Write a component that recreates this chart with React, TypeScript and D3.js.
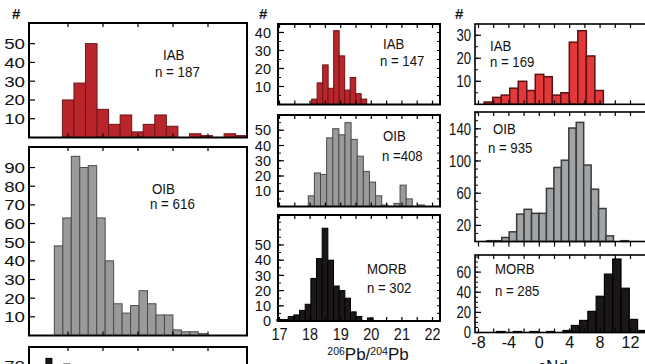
import React from 'react';
import * as d3 from 'd3';

const FONT = '"Liberation Sans", Arial, Helvetica, sans-serif';

// ---------- left column: 87Sr/86Sr (axis labels are below the picture) ----------
const srTicks = [0.703, 0.704, 0.705, 0.706, 0.707];
const srIabStart = 0.70284;
const srIabWidth = 0.00033;
const srIabCounts = [20, 29, 50, 15, 7, 12, 3, 7, 12, 6, 0, 2, 1, 0, 2, 1];
const srOibStart = 0.70261;
const srOibWidth = 0.000242;
const srOibCounts = [48, 63, 96, 90, 91, 63, 40, 17, 12, 16, 24, 17, 11, 11, 3, 2, 2, 1];
const srMorbStart = 0.70237;
const srMorbWidth = 0.00017;
// only the tops of the two tallest bars reach into the picture
const srMorbCounts = [74, 0, 0, 71];
const srIabYTicks = [10, 20, 30, 40, 50];
const srOibYTicks = [10, 20, 30, 40, 50, 60, 70, 80, 90];
const srMorbYTicks = [70];

// ---------- middle column: 206Pb/204Pb ----------
const pbTicks = [17, 18, 19, 20, 21, 22];
const pbMinorTicks = [17.5, 18.5, 19.5, 20.5, 21.5];
const pbIabStart = 18.05;
const pbIabWidth = 0.18;
const pbIabCounts = [3, 12, 22, 9, 41, 27, 8, 15, 6, 3];
const pbOibStart = 17.94;
const pbOibWidth = 0.2;
const pbOibCounts = [7, 22, 21, 45, 51, 47, 55, 44, 33, 23, 16, 7, 1, 0, 2, 14, 5, 0, 1];
const pbMorbStart = 16.915;
const pbMorbWidth = 0.185;
const pbMorbCounts = [1, 1, 3, 4, 7, 11, 28, 41, 61, 40, 23, 20, 15, 6, 3, 0, 2];
const pbIabYTicks = [10, 20, 30, 40];
const pbOibYTicks = [10, 20, 30, 40, 50];
const pbMorbYTicks = [0, 10, 20, 30, 40, 50];

// ---------- right column: εNd ----------
const ndTicks = [-8, -4, 0, 4, 8, 12];
const ndMinorTicks = [-6, -2, 2, 6, 10];
const ndIabStart = -7.25;
const ndIabWidth = 1.12;
const ndIabCounts = [1, 3, 4, 7, 10, 6, 13, 12, 4, 5, 27, 32, 21, 6];
const ndOibStart = -6.9;
const ndOibWidth = 0.98;
const ndOibCounts = [1, 1, 5, 12, 34, 40, 35, 35, 66, 92, 101, 141, 148, 95, 65, 41, 7, 0, 1];
const ndMorbStart = -5.6;
const ndMorbWidth = 1.09;
const ndMorbCounts = [1, 0, 1, 0, 1, 0, 1, 0, 2, 7, 12, 21, 36, 58, 73, 44, 13, 2];
const ndIabYTicks = [10, 20, 30];
const ndOibYTicks = [20, 60, 100, 140];
const ndMorbYTicks = [0, 20, 40, 60];

type Txt = { t: string; x: number; y: number };

type PanelProps = {
    x: d3.ScaleLinear<number, number>;
    left: number; right: number; top: number; bottom: number;
    yMax: number;
    start: number; width: number; counts: number[];
    fill: string; stroke: string; barStroke?: number;
    yTicks: number[]; yMinorStep: number;
    xTicks: number[]; xMinor?: number[];
    bottomOut?: boolean;
    labelX: number; labelSize: number; labelSx: number;
    frame: number;
    texts: Txt[]; textSize: number; textSx: number;
};

const Squeezed = ({ x, y, sx, size, anchor, children, weight }: any) => (
    <text
        transform={`translate(${x},${y}) scale(${sx},1)`}
        textAnchor={anchor || 'start'}
        fontSize={size}
        fontWeight={weight || 'normal'}
        fontFamily={FONT}
        fill="#111"
    >
        {children}
    </text>
);

const Panel = (p: PanelProps) => {
    const y = d3.scaleLinear().domain([0, p.yMax]).range([p.bottom, p.top]);
    const bw = p.x(p.start + p.width) - p.x(p.start);
    const minor = d3.range(p.yMinorStep, p.yMax, p.yMinorStep);
    return (
        <g>
            {p.counts.map((c, i) => c > 0 && (
                <rect key={i}
                    x={p.x(p.start + i * p.width)}
                    y={y(c)}
                    width={bw}
                    height={y(0) - y(c)}
                    fill={p.fill}
                    stroke={p.stroke}
                    strokeWidth={p.barStroke || 1}
                />
            ))}
            {/* minor ticks on the left and right edges */}
            {minor.map(v => (
                <g key={'m' + v}>
                    <line x1={p.left} x2={p.left + 3} y1={y(v)} y2={y(v)} stroke="#000" />
                    <line x1={p.right} x2={p.right - 3} y1={y(v)} y2={y(v)} stroke="#000" />
                </g>
            ))}
            {p.yTicks.map(v => (
                <line key={'t' + v} x1={p.left} x2={p.left + 6} y1={y(v)} y2={y(v)} stroke="#000" strokeWidth={1.2} />
            ))}
            {/* ticks on top and bottom */}
            {p.xTicks.concat(p.xMinor || []).map(v => (
                <g key={'x' + v}>
                    <line x1={p.x(v)} x2={p.x(v)} y1={p.top} y2={p.top + 4} stroke="#000" strokeWidth={1.2} />
                    <line x1={p.x(v)} x2={p.x(v)} y1={p.bottom}
                        y2={p.bottomOut ? p.bottom + 5 : p.bottom - 4} stroke="#000" strokeWidth={1.2} />
                </g>
            ))}
            <rect x={p.left} y={p.top} width={p.right - p.left} height={p.bottom - p.top}
                fill="none" stroke="#000" strokeWidth={p.frame} />
            {p.yTicks.map(v => (
                <Squeezed key={'l' + v} x={p.labelX} y={y(v) + p.labelSize * 0.36} sx={p.labelSx}
                    size={p.labelSize} anchor="end">{v}</Squeezed>
            ))}
            {p.texts.map((t, i) => (
                <Squeezed key={'s' + i} x={t.x} y={t.y} sx={p.textSx} size={p.textSize}>{t.t}</Squeezed>
            ))}
        </g>
    );
};

const App = () => {
    const xSr = d3.scaleLinear().domain([0.702, 0.707]).range([33, 208]);
    const xPb = d3.scaleLinear().domain([17, 22]).range([279.5, 432.5]);
    const xNd = d3.scaleLinear().domain([-8, 12]).range([478.5, 630.5]);

    const iabDark = { fill: '#b8262b', stroke: '#6e1416' };
    const iabBright = { fill: '#e2383a', stroke: '#5a1212' };
    const oibGrey = { fill: '#9a9a9a', stroke: '#4a4a4a' };
    const oibGreyR = { fill: '#a1a4a7', stroke: '#3a3a3a' };
    const morbBlack = { fill: '#1b1718', stroke: '#000' };

    const leftCol = { x: xSr, left: 29, right: 247, labelX: 25, labelSize: 15, labelSx: 1.25, frame: 2, textSize: 14.5, textSx: 0.92, yMinorStep: 1000, xTicks: srTicks };
    const midCol = { x: xPb, left: 278, right: 440, labelX: 271, labelSize: 14.5, labelSx: 1.0, frame: 2, textSize: 15, textSx: 0.88, xTicks: pbTicks, xMinor: pbMinorTicks };
    const rightCol = { x: xNd, left: 475, right: 660, labelX: 471, labelSize: 16, labelSx: 0.82, frame: 1.6, textSize: 15, textSx: 0.88, xTicks: ndTicks, xMinor: ndMinorTicks };

    return (
        <svg width={645} height={364} style={{ position: 'absolute', left: 0, top: 0, background: '#fff' }}>
            <rect width={645} height={364} fill="#fff" />

            {/* left column */}
            <Squeezed x={12} y={19} sx={1} size={15} weight="bold">#</Squeezed>
            <Panel {...leftCol} top={23} bottom={137.5} yMax={61}
                start={srIabStart} width={srIabWidth} counts={srIabCounts} {...iabDark}
                yTicks={srIabYTicks}
                texts={[{ t: 'IAB', x: 163, y: 60 }, { t: 'n = 187', x: 155, y: 77 }]} />
            <Panel {...leftCol} top={147} bottom={335.5} yMax={101}
                start={srOibStart} width={srOibWidth} counts={srOibCounts} {...oibGrey}
                yTicks={srOibYTicks}
                texts={[{ t: 'OIB', x: 152, y: 194 }, { t: 'n = 616', x: 150, y: 209 }]} />
            <Panel {...leftCol} top={347} bottom={499} yMax={80}
                start={srMorbStart} width={srMorbWidth} counts={srMorbCounts} {...morbBlack}
                yTicks={srMorbYTicks} texts={[]} />

            {/* middle column */}
            <Squeezed x={259} y={19} sx={1} size={15} weight="bold">#</Squeezed>
            <Panel {...midCol} top={24} bottom={104.5} yMax={44.7} yMinorStep={5}
                start={pbIabStart} width={pbIabWidth} counts={pbIabCounts} {...iabDark}
                yTicks={pbIabYTicks}
                texts={[{ t: 'IAB', x: 383, y: 49 }, { t: 'n = 147', x: 380, y: 66 }]} />
            <Panel {...midCol} top={115} bottom={206.5} yMax={60} yMinorStep={5}
                start={pbOibStart} width={pbOibWidth} counts={pbOibCounts} {...oibGrey}
                yTicks={pbOibYTicks}
                texts={[{ t: 'OIB', x: 383, y: 141 }, { t: 'n =408', x: 382, y: 161 }]} />
            <Panel {...midCol} top={215} bottom={321} yMax={69.7} yMinorStep={5}
                start={pbMorbStart} width={pbMorbWidth} counts={pbMorbCounts} {...morbBlack}
                yTicks={pbMorbYTicks}
                texts={[{ t: 'MORB', x: 367, y: 274 }, { t: 'n = 302', x: 367, y: 293 }]} />
            {pbTicks.map(v => (
                <Squeezed key={v} x={xPb(v)} y={340} sx={0.85} size={17} anchor="middle">{v}</Squeezed>
            ))}
            <text x={368} y={360} textAnchor="middle" fontFamily={FONT} fontSize={17} fill="#111">
                <tspan fontSize={10.5} dy={-5}>206</tspan>
                <tspan dy={5}>Pb/</tspan>
                <tspan fontSize={10.5} dy={-5}>204</tspan>
                <tspan dy={5}>Pb</tspan>
            </text>

            {/* right column */}
            <Squeezed x={455} y={19} sx={1} size={15} weight="bold">#</Squeezed>
            <Panel {...rightCol} top={24} bottom={104.3} yMax={34.9} yMinorStep={5}
                start={ndIabStart} width={ndIabWidth} counts={ndIabCounts} {...iabBright} barStroke={1.5}
                yTicks={ndIabYTicks}
                texts={[{ t: 'IAB', x: 490, y: 51 }, { t: 'n = 169', x: 490, y: 67 }]} />
            <Panel {...rightCol} top={112} bottom={241.5} yMax={160.9} yMinorStep={10} bottomOut
                start={ndOibStart} width={ndOibWidth} counts={ndOibCounts} {...oibGreyR} barStroke={1.5}
                yTicks={ndOibYTicks}
                texts={[{ t: 'OIB', x: 493, y: 134 }, { t: 'n = 935', x: 488, y: 153 }]} />
            <Panel {...rightCol} top={255} bottom={332.5} yMax={77} yMinorStep={5}
                start={ndMorbStart} width={ndMorbWidth} counts={ndMorbCounts} {...morbBlack} barStroke={1.2}
                yTicks={ndMorbYTicks}
                texts={[{ t: 'MORB', x: 495, y: 274 }, { t: 'n = 285', x: 495, y: 296 }]} />
            {ndTicks.map(v => (
                <Squeezed key={v} x={xNd(v)} y={348} sx={0.95} size={17} anchor="middle">{v}</Squeezed>
            ))}
            <text x={553} y={372} textAnchor="middle" fontFamily={FONT} fontSize={17} fill="#111">εNd</text>
        </svg>
    );
};

export default App;
